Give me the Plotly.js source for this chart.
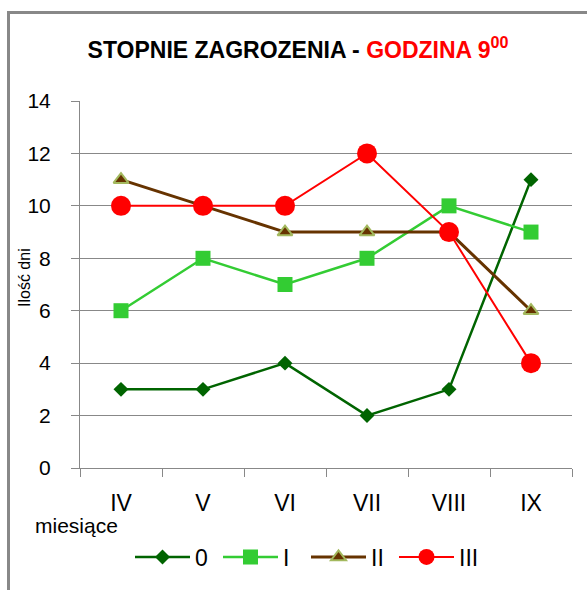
<!DOCTYPE html>
<html>
<head>
<meta charset="utf-8">
<script src="https://cdn.plot.ly/plotly-3.0.1.min.js"></script>
<style>html,body{margin:0;padding:0;background:#fff;}#chart{width:587px;height:590px;}</style>
</head>
<body>
<div id="chart"></div>
<script>
const months = ["IV", "V", "VI", "VII", "VIII", "IX"];
const seriesNames = ["0", "I", "II", "III"];
const s0 = [3, 3, 4, 2, 3, 11];
const s1 = [6, 8, 7, 8, 10, 9];
const s2 = [11, 10, 9, 9, 9, 6];
const s3 = [10, 10, 10, 12, 9, 4];
const yTicks = [0, 2, 4, 6, 8, 10, 12, 14];

const traces = [
  {x: months, y: s0, name: seriesNames[0], type: "scatter", mode: "lines+markers",
   line: {color: "#006400", width: 2.5},
   marker: {symbol: "diamond", size: 11.5, color: "#006400"}},
  {x: months, y: s1, name: seriesNames[1], type: "scatter", mode: "lines+markers",
   line: {color: "#33CC33", width: 2.5},
   marker: {symbol: "square", size: 15, color: "#33CC33"}},
  {x: months, y: s2, name: seriesNames[2], type: "scatter", mode: "lines+markers",
   line: {color: "#663300", width: 3},
   marker: {symbol: "triangle-up", size: 13, color: "#663300", line: {color: "#A3B95E", width: 2}}},
  {x: months, y: s3, name: seriesNames[3], type: "scatter", mode: "lines+markers",
   line: {color: "#FF0000", width: 2},
   marker: {symbol: "circle", size: 20, color: "#FF0000"}}
];

const FONT = "Liberation Sans, Arial, sans-serif";
const layout = {
  width: 587, height: 590,
  margin: {l: 80, r: 15, t: 101, b: 122},
  paper_bgcolor: "#fff", plot_bgcolor: "#fff",
  font: {family: FONT, color: "#000"},
  showlegend: true,
  title: {
    text: 'STOPNIE ZAGROZENIA - <span style="color:#FF0000">GODZINA 9<sup>00</sup></span>',
    font: {family: FONT, size: 23, color: "#000", weight: "bold"},
    xref: "container", x: 298/587, xanchor: "center",
    yref: "container", y: 1 - 50/590, yanchor: "middle"
  },
  xaxis: {
    type: "category", range: [-0.5, 5.5],
    showline: true, linecolor: "#888", linewidth: 1,
    ticks: "outside", tickson: "boundaries", ticklen: 8, tickcolor: "#888", tickwidth: 1,
    showgrid: false, zeroline: false,
    tickfont: {family: FONT, size: 23, color: "#000"},
    ticklabelstandoff: 14,
    fixedrange: true
  },
  yaxis: {
    range: [0, 14], tickvals: yTicks, ticktext: yTicks.map(String),
    showline: true, linecolor: "#888", linewidth: 1,
    ticks: "outside", ticklen: 8, tickcolor: "#888", tickwidth: 1,
    showgrid: true, gridcolor: "#888", gridwidth: 1, zeroline: false,
    tickfont: {family: FONT, size: 21, color: "#000"},
    ticklabelstandoff: 16,
    fixedrange: true
  },
  legend: {
    orientation: "h", xref: "paper", yref: "paper",
    x: (130 - 80)/492, xanchor: "left", y: -(557 - 468)/367, yanchor: "middle",
    font: {family: FONT, size: 23, color: "#000"},
    itemwidth: 55, entrywidth: 18, bgcolor: "rgba(0,0,0,0)"
  },
  annotations: [
    {text: "Ilość dni", textangle: -90, xref: "paper", yref: "paper",
     x: (24 - 80)/492, y: (468 - 278)/367, xanchor: "center", yanchor: "middle",
     showarrow: false, font: {family: FONT, size: 16, color: "#000"}},
    {text: "miesiące", xref: "paper", yref: "paper",
     x: (33 - 80)/492, y: (468 - 525)/367, xanchor: "left", yanchor: "middle",
     showarrow: false, font: {family: FONT, size: 21, color: "#000"}}
  ],
  shapes: [
    {type: "line", xref: "paper", yref: "paper", x0: (8.5-80)/492, x1: (8.5-80)/492,
     y0: (468-12.5)/367, y1: (468-592)/367, line: {color: "#888", width: 3}},
    {type: "line", xref: "paper", yref: "paper", x0: (7-80)/492, x1: (590-80)/492,
     y0: (468-12.5)/367, y1: (468-12.5)/367, line: {color: "#888", width: 3}}
  ]
};

Plotly.newPlot("chart", traces, layout, {staticPlot: true, displayModeBar: false});
</script>
</body>
</html>
